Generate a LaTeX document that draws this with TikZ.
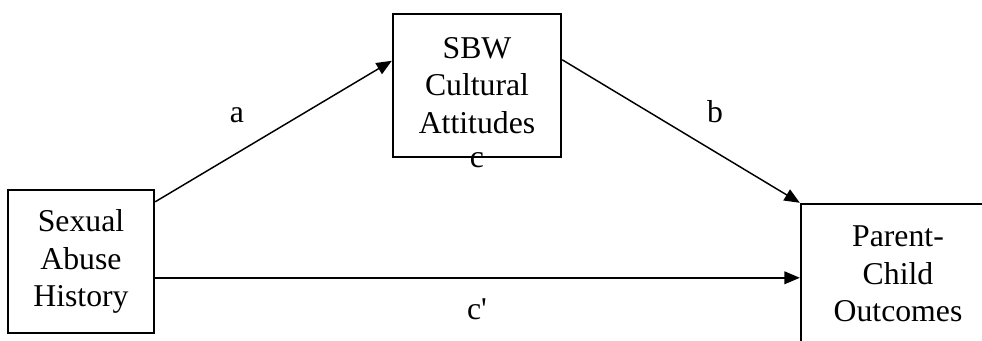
\documentclass[tikz,border=0pt]{standalone}
\usepackage{fontspec}
\setmainfont{Liberation Serif}
\usetikzlibrary{arrows.meta, calc}

\begin{document}
\begin{tikzpicture}[x=0.75pt, y=-0.75pt,
    % Define the style for the variable boxes
    varbox/.style={
        draw, line width=1.8pt, inner sep=0pt, align=center,
        font=\fontsize{23.8}{28.2}\selectfont
    },
    % Define the style for the paths and their labels
    patharrow/.style={line width=1.1pt, -{Triangle[length=11.5pt,width=9.5pt]}},
    pathlabel/.style={anchor=base, inner sep=0pt, font=\fontsize{23.8}{28.2}\selectfont}
]

\useasboundingbox (0,0) rectangle (982,341);
\clip (0,0) rectangle (982,341);

% Define the boxes
\node[varbox, minimum width=109.5pt, minimum height=107.25pt] (abuse) at (81,261.5) {Sexual\\Abuse\\History};
\node[varbox, minimum width=126pt, minimum height=107.25pt] (sbw) at (477,85.5) {SBW\\Cultural\\Attitudes};
\node[varbox, minimum width=145.5pt, minimum height=105pt] (out) at (898,274) {Parent-\\Child\\Outcomes};


% Draw the paths
\draw[patharrow] ($(abuse.north east)+(0,13)$) -- ($(sbw.north west)+(0,48)$);
\draw[patharrow] ($(sbw.north east)+(0,47)$) -- (out.north west);
\draw[patharrow] ($(abuse.north east)+(0,89)$) coordinate (direct) -- (direct -| out.west);


% Add the path labels
\node[pathlabel] (la) at (237,123) {a};
\node[pathlabel] (lb) at (715,123) {b};
\node[pathlabel] (lc) at (477,168) {c};
\node[pathlabel] (lcp) at (477,320) {c\textquotesingle};

\end{tikzpicture}
\end{document}
